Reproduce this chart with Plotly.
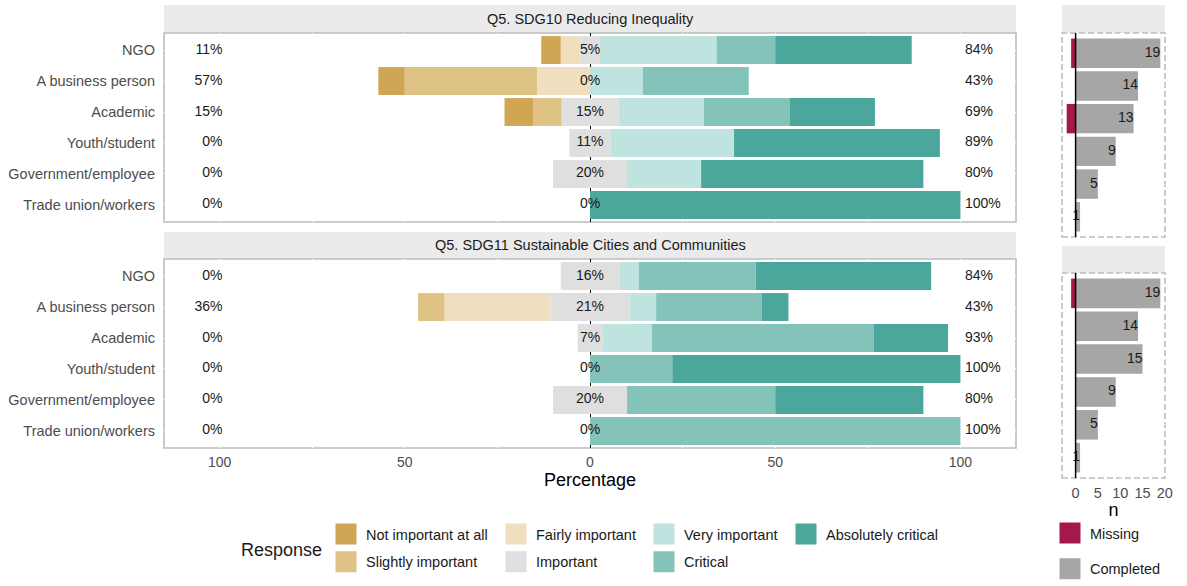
import plotly.graph_objects as go

W, H = 1187, 586

groups = ["NGO", "A business person", "Academic", "Youth/student",
          "Government/employee", "Trade union/workers"]
responses = ["Not important at all", "Slightly important", "Fairly important",
             "Important", "Very important", "Critical", "Absolutely critical"]
colors = ["#D0A553", "#DFC286", "#F0DFBF", "#DFDFDF", "#BFE3DF", "#84C3B9", "#4BA79B"]

panel_titles = ["Q5. SDG10 Reducing Inequality",
                "Q5. SDG11 Sustainable Cities and Communities"]

# counts per response (rows) per group (columns)
sdg10_counts = {
    "Not important at all": [1, 1, 1, 0, 0, 0],
    "Slightly important":   [0, 5, 1, 0, 0, 0],
    "Fairly important":     [1, 2, 0, 0, 0, 0],
    "Important":            [1, 0, 2, 1, 1, 0],
    "Very important":       [6, 2, 3, 3, 1, 0],
    "Critical":             [3, 4, 3, 0, 0, 0],
    "Absolutely critical":  [7, 0, 3, 5, 3, 1],
}
sdg11_counts = {
    "Not important at all": [0, 0, 0, 0, 0, 0],
    "Slightly important":   [0, 1, 0, 0, 0, 0],
    "Fairly important":     [0, 4, 0, 0, 0, 0],
    "Important":            [3, 3, 1, 0, 1, 0],
    "Very important":       [1, 1, 2, 0, 0, 0],
    "Critical":             [6, 4, 9, 2, 2, 1],
    "Absolutely critical":  [9, 1, 3, 7, 2, 0],
}
sdg10_completed = [19, 14, 13, 9, 5, 1]
sdg10_missing = [1, 0, 2, 0, 0, 0]
sdg11_completed = [19, 14, 15, 9, 5, 1]
sdg11_missing = [1, 0, 0, 0, 0, 0]

x_ticks = [-100, -50, 0, 50, 100]
x_ticktext = ["100", "50", "0", "50", "100"]
n_ticks = [0, 5, 10, 15, 20]

FONT = "Liberation Sans, Arial, sans-serif"
TXT = "#1A1A1A"
AX = "#4D4D4D"

def py(px):
    return 1 - px / H

def pxx(px):
    return px / W

fig = go.Figure()

left_dom = [pxx(164), pxx(1016)]
right_dom = [pxx(1062), pxx(1165)]
ydoms_left = [[py(222), py(33)], [py(448), py(259)]]
ydoms_right = [[py(237), py(33)], [py(478), py(273)]]

low = responses[:3]
high = responses[4:]

for p, counts in enumerate([sdg10_counts, sdg11_counts]):
    xa = "x" if p == 0 else "x2"
    ya = "y" if p == 0 else "y2"
    totals = [sum(counts[r][i] for r in responses) for i in range(len(groups))]
    pct = {r: [counts[r][i] / totals[i] * 100 for i in range(len(groups))] for r in responses}
    # negative side (closest to zero first)
    neg_order = ["Important"] + low[::-1]
    for r in neg_order:
        vals = [-v / 2 if r == "Important" else -v for v in pct[r]]
        fig.add_trace(go.Bar(y=groups, x=vals, orientation="h", xaxis=xa, yaxis=ya,
                             marker=dict(color=colors[responses.index(r)], line=dict(width=0)),
                             width=0.9, showlegend=False, hoverinfo="skip"))
    for r in ["Important"] + high:
        vals = [v / 2 if r == "Important" else v for v in pct[r]]
        fig.add_trace(go.Bar(y=groups, x=vals, orientation="h", xaxis=xa, yaxis=ya,
                             marker=dict(color=colors[responses.index(r)], line=dict(width=0)),
                             width=0.9, showlegend=False, hoverinfo="skip"))
    low_pct = [sum(pct[r][i] for r in low) for i in range(len(groups))]
    mid_pct = pct["Important"]
    high_pct = [sum(pct[r][i] for r in high) for i in range(len(groups))]
    lab = lambda v: f"{int(v + 0.5)}%"
    fig.add_trace(go.Scatter(y=groups, x=[-99.2] * len(groups), mode="text",
                             text=[lab(v) for v in low_pct], textposition="middle left",
                             textfont=dict(size=14, color=TXT, family=FONT),
                             xaxis=xa, yaxis=ya, showlegend=False, hoverinfo="skip"))
    fig.add_trace(go.Scatter(y=groups, x=[0] * len(groups), mode="text",
                             text=[lab(v) for v in mid_pct], textposition="middle center",
                             textfont=dict(size=14, color=TXT, family=FONT),
                             xaxis=xa, yaxis=ya, showlegend=False, hoverinfo="skip"))
    fig.add_trace(go.Scatter(y=groups, x=[101.2] * len(groups), mode="text",
                             text=[lab(v) for v in high_pct], textposition="middle right",
                             textfont=dict(size=14, color=TXT, family=FONT),
                             xaxis=xa, yaxis=ya, showlegend=False, hoverinfo="skip"))

for p, (comp, miss) in enumerate([(sdg10_completed, sdg10_missing),
                                   (sdg11_completed, sdg11_missing)]):
    xa = "x3" if p == 0 else "x4"
    ya = "y3" if p == 0 else "y4"
    fig.add_trace(go.Bar(y=groups, x=[-m for m in miss], orientation="h", xaxis=xa, yaxis=ya,
                         marker=dict(color="#A3194B", line=dict(width=0)), width=0.9,
                         showlegend=False, hoverinfo="skip"))
    fig.add_trace(go.Bar(y=groups, x=comp, orientation="h", xaxis=xa, yaxis=ya,
                         marker=dict(color="#A6A6A6", line=dict(width=0)), width=0.9,
                         showlegend=False, hoverinfo="skip"))
    fig.add_trace(go.Scatter(y=groups, x=comp, mode="text", text=[str(c) for c in comp],
                             textposition="middle left",
                             textfont=dict(size=14, color=TXT, family=FONT),
                             xaxis=xa, yaxis=ya, showlegend=False, hoverinfo="skip"))

# legend entries
legend_cols = [["Not important at all", "Slightly important"],
               ["Fairly important", "Important"],
               ["Very important", "Critical"],
               ["Absolutely critical"]]
legend_names = ["legend", "legend2", "legend3", "legend4"]
for lg, col in zip(legend_names, legend_cols):
    for r in col:
        c = colors[responses.index(r)]
        fig.add_trace(go.Scatter(x=[None], y=[None], mode="markers", name=r,
                                 marker=dict(symbol="square", size=16, color=c,
                                             line=dict(color=c, width=5)),
                                 legend=lg, legendgroup=r, showlegend=True,
                                 xaxis="x", yaxis="y"))
for name, c in [("Missing", "#A3194B"), ("Completed", "#A6A6A6")]:
    fig.add_trace(go.Scatter(x=[None], y=[None], mode="markers", name=name,
                             marker=dict(symbol="square", size=16, color=c,
                                         line=dict(color=c, width=5)),
                             legend="legend5", legendgroup=name, showlegend=True,
                             xaxis="x3", yaxis="y3"))

common_left_y = dict(categoryorder="array", categoryarray=groups, range=[5.55, -0.55],
                     showgrid=True, gridcolor="white", gridwidth=1.2, zeroline=False,
                     ticks="", tickfont=dict(size=14.5, color=AX, family=FONT),
                     ticklabelstandoff=8, showline=False, fixedrange=True)
common_left_x = dict(domain=left_dom, range=[-115, 115], tickvals=x_ticks, ticktext=x_ticktext,
                     showgrid=True, gridcolor="white", gridwidth=1.2,
                     minor=dict(tickvals=[-75, -25, 25, 75], showgrid=True, gridcolor="white",
                                gridwidth=1.2),
                     zeroline=True, zerolinecolor="black", zerolinewidth=1.4,
                     ticks="", showline=False, fixedrange=True)
common_right_y = dict(categoryorder="array", categoryarray=groups, range=[5.62, -0.62],
                      showgrid=True, gridcolor="white", gridwidth=1.2, zeroline=False,
                      showticklabels=False, ticks="", showline=False, fixedrange=True)
common_right_x = dict(domain=right_dom, range=[-3.05, 20.05], tickvals=n_ticks,
                      showgrid=True, gridcolor="white", gridwidth=1.2, zeroline=False,
                      ticks="", showline=False, fixedrange=True)

legend_common = dict(orientation="v", bgcolor="rgba(0,0,0,0)", borderwidth=0,
                     font=dict(size=14.5, color=TXT, family=FONT), xanchor="left",
                     yanchor="top", itemclick=False, itemdoubleclick=False)

fig.update_layout(
    width=W, height=H, margin=dict(l=0, r=0, t=0, b=0, autoexpand=False),
    paper_bgcolor="white", plot_bgcolor="white",
    font=dict(family=FONT, color=TXT),
    barmode="relative", bargap=0.1, hovermode=False,
    xaxis=dict(**common_left_x, anchor="y", showticklabels=False),
    yaxis=dict(**common_left_y, domain=ydoms_left[0], anchor="x"),
    xaxis2=dict(**common_left_x, anchor="y2", showticklabels=True,
                tickfont=dict(size=14, color=AX, family=FONT), ticklabelstandoff=4,
                title=dict(text="Percentage", font=dict(size=18, color="black", family=FONT),
                           standoff=2)),
    yaxis2=dict(**common_left_y, domain=ydoms_left[1], anchor="x2"),
    xaxis3=dict(**common_right_x, anchor="y3", showticklabels=False),
    yaxis3=dict(**common_right_y, domain=ydoms_right[0], anchor="x3"),
    xaxis4=dict(**common_right_x, anchor="y4", showticklabels=True,
                tickfont=dict(size=14.5, color=AX, family=FONT), ticklabelstandoff=4,
                title=dict(text="n", font=dict(size=18, color="black", family=FONT),
                           standoff=2)),
    yaxis4=dict(**common_right_y, domain=ydoms_right[1], anchor="x4"),
    legend=dict(**legend_common, x=pxx(326), y=py(518), tracegroupgap=6),
    legend2=dict(**legend_common, x=pxx(496), y=py(518), tracegroupgap=6),
    legend3=dict(**legend_common, x=pxx(644), y=py(518), tracegroupgap=6),
    legend4=dict(**legend_common, x=pxx(786), y=py(518), tracegroupgap=6),
    legend5=dict(**legend_common, x=pxx(1050), y=py(517), tracegroupgap=14),
)

shapes = []
annotations = []
# strips
strips = [(164, 1016, 5, 33, panel_titles[0]), (164, 1016, 232, 259, panel_titles[1]),
          (1062, 1165, 5, 33, ""), (1062, 1165, 246, 273, "")]
for x0, x1, y0, y1, t in strips:
    shapes.append(dict(type="rect", xref="paper", yref="paper", x0=pxx(x0), x1=pxx(x1),
                       y0=py(y1), y1=py(y0), fillcolor="#EBEBEB", line=dict(width=0),
                       layer="below"))
    if t:
        annotations.append(dict(text=t, xref="paper", yref="paper", x=pxx((x0 + x1) / 2),
                                y=py((y0 + y1) / 2), showarrow=False, xanchor="center",
                                yanchor="middle",
                                font=dict(size=14.5, color=TXT, family=FONT)))
# panel borders
for xa, ya in [("x", "y"), ("x2", "y2")]:
    shapes.append(dict(type="rect", xref=f"{xa} domain", yref=f"{ya} domain", x0=0, x1=1,
                       y0=0, y1=1, line=dict(color="#BDBDBD", width=1.6), layer="below"))
for xa, ya in [("x3", "y3"), ("x4", "y4")]:
    shapes.append(dict(type="rect", xref=f"{xa} domain", yref=f"{ya} domain", x0=0, x1=1,
                       y0=0, y1=1, line=dict(color="#BDBDBD", width=1.6, dash="6px,3px"),
                       layer="below"))
    shapes.append(dict(type="line", xref=xa, yref=f"{ya} domain", x0=0, x1=0, y0=0, y1=1,
                       line=dict(color="black", width=1.5), layer="above"))

annotations.append(dict(text="Response", xref="paper", yref="paper", x=pxx(239), y=py(550),
                        xanchor="left", yanchor="middle", showarrow=False,
                        font=dict(size=18, color=TXT, family=FONT)))

fig.update_layout(shapes=shapes, annotations=annotations)

fig.write_html("out.html", config={"displayModeBar": False},
               post_script="document.body.style.margin='0px';document.body.style.overflow='hidden';")
